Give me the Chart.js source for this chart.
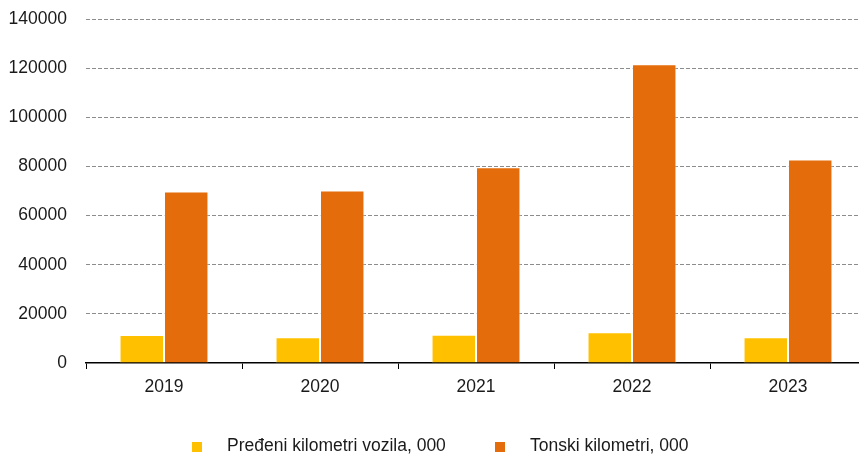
<!DOCTYPE html>
<html>
<head>
<meta charset="utf-8">
<script src="https://cdn.jsdelivr.net/npm/chart.js@4"></script>
<style>
  html, body { margin: 0; padding: 0; background: #fff; overflow: hidden; width: 859px; height: 456px; }
  #wrap { position: absolute; left: 0; top: 0; width: 866px; height: 456px; }
  .lg-box { position: absolute; width: 10px; height: 10px; }
  .lg-text { position: absolute; font-family: "Liberation Sans", Arial, sans-serif; font-size: 17.5px; line-height: 20px; color: #1a1a1a; white-space: nowrap; }
</style>
</head>
<body>
<div id="wrap"><canvas id="barChart"></canvas></div>
<div class="lg-box" style="left:192px; top:442px; background:#FFC000;"></div>
<div class="lg-text" id="lg1" style="left:227px; top:435px;"></div>
<div class="lg-box" style="left:495px; top:442px; background:#E46C0A;"></div>
<div class="lg-text" id="lg2" style="left:530px; top:435px;"></div>
<script>
        const years = ['2019', '2020', '2021', '2022', '2023'];
        const vehicleKm = [11400, 10500, 11500, 12500, 10500];
        const tonneKm = [69800, 70200, 79700, 121600, 82800];
        const seriesNames = ['Pređeni kilometri vozila, 000', 'Tonski kilometri, 000'];
        const yTicks = [0, 20000, 40000, 60000, 80000, 100000, 120000, 140000];

        document.getElementById('lg1').textContent = seriesNames[0];
        document.getElementById('lg2').textContent = seriesNames[1];

        Chart.defaults.font.family = '"Liberation Sans", Arial, sans-serif';
        Chart.defaults.font.size = 17.5;
        Chart.defaults.color = '#1a1a1a';

        const ctx = document.getElementById('barChart').getContext('2d');
        const barChart = new Chart(ctx, {
            type: 'bar',
            data: {
                labels: years,
                datasets: [
                    {
                        label: seriesNames[0],
                        data: vehicleKm,
                        backgroundColor: '#FFC000',
                        borderColor: 'rgba(255, 255, 255, 0.7)',
                        borderWidth: 1,
                        barPercentage: 1,
                        categoryPercentage: 0.57
                    },
                    {
                        label: seriesNames[1],
                        data: tonneKm,
                        backgroundColor: '#E46C0A',
                        borderColor: 'rgba(255, 255, 255, 0.7)',
                        borderWidth: 1,
                        barPercentage: 1,
                        categoryPercentage: 0.57
                    }
                ]
            },
            options: {
                responsive: true,
                maintainAspectRatio: false,
                animation: false,
                layout: {
                    padding: { top: 19, right: 0, bottom: 50, left: 0 }
                },
                scales: {
                    x: {
                        grid: {
                            offset: true,
                            drawOnChartArea: false,
                            drawTicks: true,
                            tickLength: 6,
                            color: '#000'
                        },
                        border: {
                            color: '#000',
                            width: 1.5
                        },
                        ticks: {
                            padding: 8
                        }
                    },
                    y: {
                        min: 0,
                        max: 140000,
                        afterFit: function(scale) {
                            scale.width = 86;
                            scale.paddingTop = 0;
                            scale.paddingBottom = 0;
                        },
                        afterBuildTicks: function(scale) {
                            scale.ticks = yTicks.map(v => ({ value: v }));
                        },
                        grid: {
                            drawTicks: false,
                            color: function(c) {
                                return c.tick.value === 0 ? 'rgba(0,0,0,0)' : '#8c8c8c';
                            }
                        },
                        border: {
                            display: false,
                            dash: [4, 2]
                        },
                        ticks: {
                            padding: 19,
                            callback: function(value) {
                                return String(value);
                            }
                        }
                    }
                },
                plugins: {
                    legend: {
                        display: false
                    },
                    tooltip: {
                        enabled: false
                    }
                }
            }
        });
</script>
</body>
</html>
